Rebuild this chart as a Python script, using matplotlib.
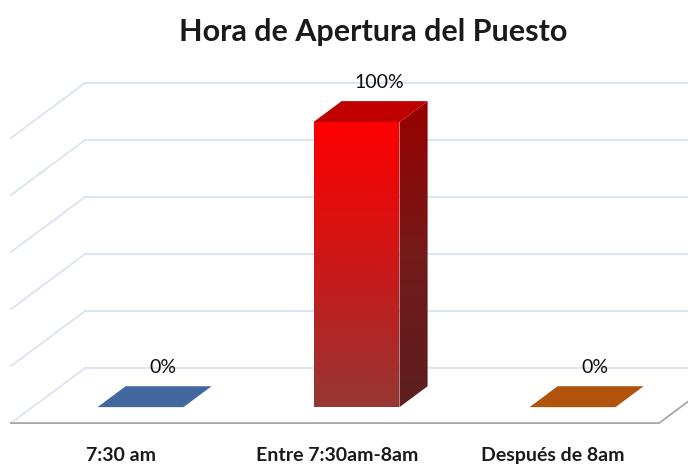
import numpy as np
import matplotlib
matplotlib.use("Agg")
import matplotlib.pyplot as plt
from matplotlib.patches import Polygon
from matplotlib.colors import LinearSegmentedColormap

# chart data
title = "Hora de Apertura del Puesto"
categories = ["7:30 am", "Entre 7:30am-8am", "Después de 8am"]
values = [0.0, 1.0, 0.0]
labels = ["0%", "100%", "0%"]
grid_levels = [0.0, 0.2, 0.4, 0.6, 0.8, 1.0]

plt.rcParams['font.family'] = ['Lato', 'DejaVu Sans']

# oblique "3d" look: depth d in [0, 1] moves up and to the right
DX, DY = 0.3426, 0.193          # full-depth shift in data units
BAR_HALF = 0.199
D0, D1 = 0.29, 0.67             # bar depth range


def proj(x, v, d):
    return x + DX * d, v + DY * d


fig = plt.figure(figsize=(6.88, 4.65), dpi=100)
ax = fig.add_axes([0, 0, 1, 1])
ax.set_xlim(-0.551, 2.634)
ax.set_ylim(-0.147, 1.484)
ax.axis('off')

grid_col = '#d9e3f1'
xl, xr = -0.5, len(categories) - 0.5
for g in grid_levels:
    # back wall
    p1 = proj(xl, g, 1)
    p2 = proj(xr, g, 1)
    ax.plot([p1[0], p2[0]], [p1[1], p2[1]], color=grid_col, lw=1.3, zorder=1)
    # left side wall
    p0 = proj(xl, g, 0)
    ax.plot([p0[0], p1[0]], [p0[1], p1[1]], color=grid_col, lw=1.3, zorder=1)

# floor edges
f1, f2, f3 = proj(xl, 0, 0), proj(xr, 0, 0), proj(xr, 0, 1)
ax.plot([f1[0], f2[0], f3[0]], [f1[1], f2[1], f3[1]], color='#a6a6a6', lw=1.3, zorder=2)

front_cmap = LinearSegmentedColormap.from_list('front', ['#ff0000', '#cc1818', '#953735'])
side_cmap = LinearSegmentedColormap.from_list('side', ['#980000', '#741a1a', '#5c1f1f'])
flat_colors = ['#4169a0', None, '#b0540b']


def gradient_poly(pts, cmap, zorder):
    poly = Polygon(pts, closed=True, facecolor='none', edgecolor='none')
    ax.add_patch(poly)
    xs = [p[0] for p in pts]
    ys = [p[1] for p in pts]
    grad = np.linspace(0, 1, 256).reshape(-1, 1)
    im = ax.imshow(grad, cmap=cmap, aspect='auto', origin='upper',
                   extent=[min(xs), max(xs), min(ys), max(ys)], zorder=zorder)
    im.set_clip_path(poly)


for i, v in enumerate(values):
    a, b = i - BAR_HALF, i + BAR_HALF
    top = [proj(a, v, D0), proj(b, v, D0), proj(b, v, D1), proj(a, v, D1)]
    if v > 0:
        front = [proj(a, 0, D0), proj(b, 0, D0), proj(b, v, D0), proj(a, v, D0)]
        side = [proj(b, 0, D0), proj(b, 0, D1), proj(b, v, D1), proj(b, v, D0)]
        gradient_poly(front, front_cmap, 4)
        gradient_poly(side, side_cmap, 4)
        ax.add_patch(Polygon(top, closed=True, facecolor='#c00000', edgecolor='none', zorder=5))
    else:
        ax.add_patch(Polygon(top, closed=True, facecolor=flat_colors[i], edgecolor='none', zorder=5))
    cx, cy = proj(i, v, (D0 + D1) / 2)
    ax.annotate(labels[i], (cx, cy), xytext=(6, 21), textcoords='offset points',
                ha='center', va='center', fontsize=14, color='#0d0d0d', zorder=6)

# category labels
for i, c in enumerate(categories):
    ax.text(i + 0.01, -0.115, c, ha='center', va='center', fontsize=14,
            fontweight='bold', color='#1a1a1a')

fig.text(0.542, 0.932, title, ha='center', va='center', fontsize=22,
         fontweight='bold', color='#1a1a1a')

fig.savefig('out.png', dpi=100)
